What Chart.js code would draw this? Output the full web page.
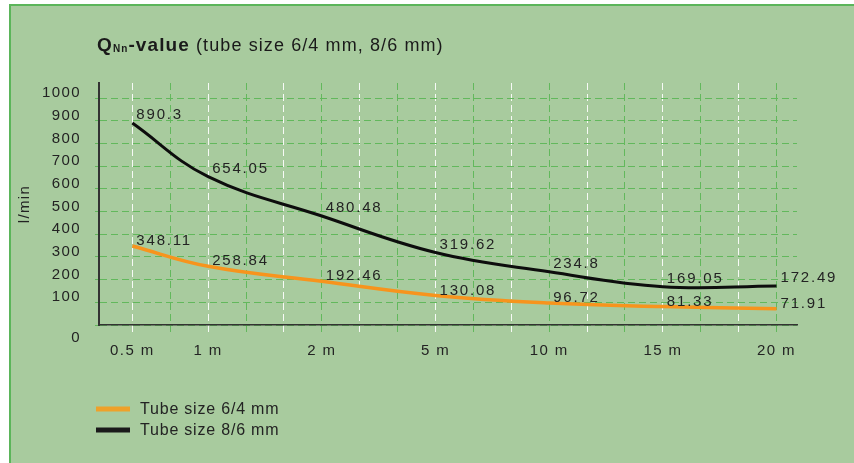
<!DOCTYPE html>
<html>
<head>
<meta charset="utf-8">
<style>
  html, body { margin: 0; padding: 0; background: #ffffff; }
  body { width: 854px; height: 463px; position: relative; overflow: hidden; }
  .frame {
    position: absolute; left: 9px; top: 4px; right: 0; bottom: 0;
    background: #a8cb9e;
    border-left: 2px solid #5bb55a;
    border-top: 2px solid #5bb55a;
  }
  #qnChart { position: absolute; left: 0; top: 0; }
</style>
<script src="https://cdn.jsdelivr.net/npm/chart.js@4/dist/chart.umd.min.js"></script>
</head>
<body>
<div class="frame"></div>
<canvas id="qnChart" width="854" height="463"></canvas>
<script>
// grid slot of each tube length on the x axis (18 equal slots, 0..17)
const slots = [0, 2, 5, 8, 11, 14, 17];
const lengthLabels = ['0.5 m', '1 m', '2 m', '5 m', '10 m', '15 m', '20 m'];
const tube64 = [348.11, 258.84, 192.46, 130.08, 96.72, 81.33, 71.91];
const tube86 = [890.3, 654.05, 480.48, 319.62, 234.8, 169.05, 172.49];
const seriesNames = ['Tube size 6/4 mm', 'Tube size 8/6 mm'];

const FONT = '"Liberation Sans", Arial, sans-serif';
const TEXT = '#232323';
const GRID_GREEN = '#62b85c';

const toPoints = values => values.map((v, i) => ({ x: slots[i], y: v }));

const tickSpacing = {
    id: 'tickSpacing',
    beforeDraw(chart) {
        chart.ctx.letterSpacing = '1.4px';
    }
};

const pointLabels = {
    id: 'pointLabels',
    afterDatasetsDraw(chart) {
        const ctx = chart.ctx;
        ctx.save();
        ctx.font = '15px ' + FONT;
        ctx.letterSpacing = '1.8px';
        ctx.fillStyle = TEXT;
        ctx.textAlign = 'left';
        ctx.textBaseline = 'middle';
        chart.data.datasets.forEach((ds, i) => {
            chart.getDatasetMeta(i).data.forEach((pt, j) => {
                ctx.fillText(String(ds.data[j].y), pt.x + 4, pt.y + ds.labelShift);
            });
        });
        ctx.restore();
    }
};

const titleAndLegend = {
    id: 'titleAndLegend',
    afterDraw(chart) {
        const ctx = chart.ctx;
        ctx.save();
        ctx.fillStyle = '#1a1a1a';
        ctx.textAlign = 'left';
        ctx.textBaseline = 'alphabetic';
        ctx.letterSpacing = '1.1px';
        const parts = [
            ['bold 19px ' + FONT, 'Q', 0],
            ['bold 10px ' + FONT, 'Nn', 1],
            ['bold 19px ' + FONT, '-value', 0],
            ['18px ' + FONT, ' (tube size 6/4 mm, 8/6 mm)', 0]
        ];
        let x = 97;
        parts.forEach(([font, text, drop]) => {
            ctx.font = font;
            ctx.fillText(text, x, 51 + drop);
            x += ctx.measureText(text).width;
        });

        // legend, one row per series
        ctx.font = '16px ' + FONT;
        ctx.letterSpacing = '0.8px';
        ctx.textBaseline = 'middle';
        chart.data.datasets.forEach((ds, i) => {
            const y = 409 + i * 21;
            ctx.strokeStyle = ds.legendColor;
            ctx.lineWidth = 5;
            ctx.beginPath();
            ctx.moveTo(96, y);
            ctx.lineTo(130, y);
            ctx.stroke();
            ctx.fillStyle = TEXT;
            ctx.fillText(ds.label, 140, y + 1);
        });
        ctx.restore();
    }
};

new Chart(document.getElementById('qnChart'), {
    type: 'line',
    data: {
        datasets: [
            {
                label: seriesNames[0],
                data: toPoints(tube64),
                borderColor: '#f7941d',
                legendColor: '#eea12a',
                borderWidth: 3.5,
                pointRadius: 0,
                tension: 0.4,
                labelShift: -5
            },
            {
                label: seriesNames[1],
                data: toPoints(tube86),
                borderColor: '#0d0d0d',
                legendColor: '#1a1a1a',
                borderWidth: 3,
                pointRadius: 0,
                tension: 0.4,
                labelShift: -8
            }
        ]
    },
    options: {
        responsive: false,
        animation: false,
        devicePixelRatio: 1,
        layout: { padding: { left: 0, right: 57, top: 83, bottom: 98 } },
        plugins: {
            legend: { display: false },
            title: { display: false },
            tooltip: { enabled: false }
        },
        scales: {
            x: {
                type: 'linear',
                min: -0.88,
                max: 17.54,
                afterFit: scale => { scale.height = 40; },
                ticks: {
                    stepSize: 1,
                    includeBounds: false,
                    autoSkip: false,
                    maxRotation: 0,
                    padding: 10,
                    color: TEXT,
                    font: { family: FONT, size: 15 },
                    callback: value => {
                        const k = slots.indexOf(value);
                        return k >= 0 ? lengthLabels[k] : '';
                    }
                },
                grid: {
                    color: ctx => ctx.index % 2 === 0 ? 'rgba(255,255,255,0.9)' : GRID_GREEN,
                    lineWidth: 1,
                    tickLength: 7,
                    tickBorderDash: [7, 4]
                },
                border: { color: '#333333', width: 1.5, dash: [7, 4] }
            },
            y: {
                min: 0,
                max: 1067,
                afterFit: scale => { scale.width = 99; },
                ticks: {
                    stepSize: 100,
                    includeBounds: false,
                    autoSkip: false,
                    padding: 14,
                    labelOffset: -5,
                    color: TEXT,
                    font: { family: FONT, size: 15 },
                    callback: value => value === 0 ? ['', '', '0'] : String(value)
                },
                grid: {
                    color: GRID_GREEN,
                    lineWidth: 1,
                    tickLength: 4,
                    tickBorderDash: [7, 4]
                },
                border: { color: '#333333', width: 2, dash: [7, 4] },
                title: {
                    display: true,
                    text: 'l/min',
                    color: TEXT,
                    font: { family: FONT, size: 15 },
                    padding: { top: 16, bottom: 0 }
                }
            }
        }
    },
    plugins: [tickSpacing, pointLabels, titleAndLegend]
});
</script>
</body>
</html>
